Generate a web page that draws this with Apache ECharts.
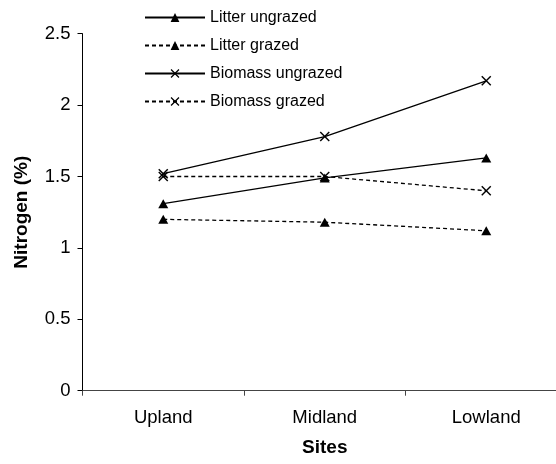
<!DOCTYPE html>
<html>
<head>
<meta charset="utf-8">
<script src="https://cdn.jsdelivr.net/npm/echarts@6/dist/echarts.min.js"></script>
<style>html,body{margin:0;padding:0;background:#fff;overflow:hidden;width:556px;height:464px;}#c{width:567px;height:464px;}</style>
</head>
<body>
<div id="c"></div>
<script>
var categories = ['Upland', 'Midland', 'Lowland'];
var litterUngrazed = [1.31, 1.49, 1.63];
var litterGrazed = [1.20, 1.18, 1.12];
var biomassUngrazed = [1.52, 1.78, 2.17];
var biomassGrazed = [1.50, 1.50, 1.40];
var yTicks = [0, 0.5, 1, 1.5, 2, 2.5];

var FONT = 'Liberation Sans, Arial, sans-serif';
var crossPath = 'path://M0,1L1,0L5,4L9,0L10,1L6,5L10,9L9,10L5,6L1,10L0,9L4,5Z';

function mk(name, data, symbol, dashed) {
  return {
    name: name,
    type: 'line',
    data: data,
    symbol: symbol,
    symbolSize: symbol === 'triangle' ? [10, 9] : [10, 10],
    showSymbol: true,
    animation: false,
    lineStyle: { color: '#000', width: 1.3, type: dashed ? [4, 3] : 'solid' },
    itemStyle: { color: '#000' }
  };
}

var chart = echarts.init(document.getElementById('c'));
chart.setOption({
  backgroundColor: '#fff',
  animation: false,
  grid: { left: 82.5, top: 33.7, right: 0, bottom: 73.3 },
  legend: {
    orient: 'vertical',
    left: 139,
    top: 3.5,
    itemWidth: 60,
    itemHeight: 11,
    itemGap: 10,
    textStyle: { fontFamily: FONT, fontSize: 16, color: '#000', lineHeight: 18 },
    data: ['Litter ungrazed', 'Litter grazed', 'Biomass ungrazed', 'Biomass grazed']
  },
  xAxis: {
    type: 'category',
    data: categories,
    boundaryGap: true,
    name: 'Sites',
    nameLocation: 'middle',
    nameGap: 48,
    nameTextStyle: { fontFamily: FONT, fontSize: 19, fontWeight: 'bold', color: '#000' },
    axisLine: { lineStyle: { color: '#444', width: 1 } },
    axisTick: { show: true, length: 5, lineStyle: { color: '#444' } },
    axisLabel: { fontFamily: FONT, fontSize: 18.5, color: '#000', margin: 18 },
    splitLine: { show: false }
  },
  yAxis: {
    type: 'value',
    min: yTicks[0],
    max: yTicks[yTicks.length - 1],
    interval: 0.5,
    name: 'Nitrogen (%)',
    nameLocation: 'middle',
    nameGap: 51,
    nameRotate: 90,
    nameTextStyle: { fontFamily: FONT, fontSize: 19, fontWeight: 'bold', color: '#000' },
    axisLine: { show: true, lineStyle: { color: '#000', width: 1 } },
    axisTick: { show: true, length: 5, lineStyle: { color: '#000' } },
    axisLabel: { fontFamily: FONT, fontSize: 18.5, color: '#000', margin: 12 },
    splitLine: { show: false }
  },
  series: [
    mk('Litter ungrazed', litterUngrazed, 'triangle', false),
    mk('Litter grazed', litterGrazed, 'triangle', true),
    mk('Biomass ungrazed', biomassUngrazed, crossPath, false),
    mk('Biomass grazed', biomassGrazed, crossPath, true)
  ]
});
</script>
</body>
</html>
